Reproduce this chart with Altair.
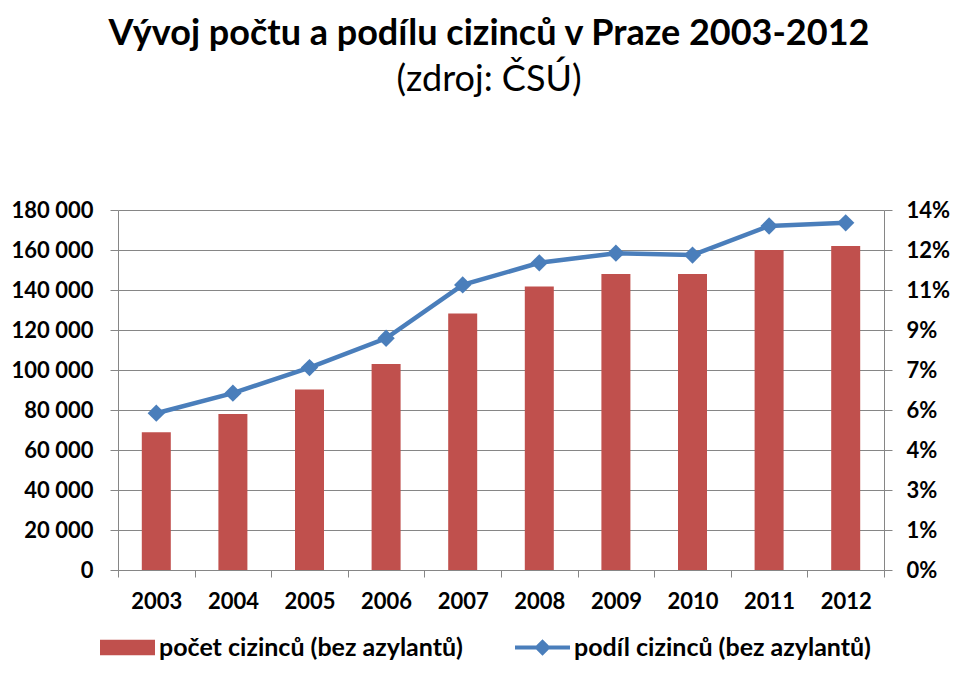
import altair as alt
import pandas as pd

years = ["2003", "2004", "2005", "2006", "2007", "2008", "2009", "2010", "2011", "2012"]
counts = [68900, 78000, 90200, 103000, 128300, 141700, 148000, 148000, 160000, 162000]
shares = [0.0588, 0.0663, 0.0759, 0.0869, 0.1069, 0.1152, 0.1188, 0.1181, 0.1290, 0.1302]

left_tick_values = [0, 20000, 40000, 60000, 80000, 100000, 120000, 140000, 160000, 180000]
right_tick_values = [0.0, 0.015, 0.03, 0.045, 0.06, 0.075, 0.09, 0.105, 0.12, 0.135]
right_tick_labels = ["0%", "1%", "3%", "4%", "6%", "7%", "9%", "11%", "12%", "14%"]

bar_series = "počet cizinců (bez azylantů)"
line_series = "podíl cizinců (bez azylantů)"
title_text = "Vývoj počtu a podílu cizinců v Praze 2003-2012"
subtitle_text = "(zdroj: ČSÚ)"

RED = "#C0504D"
BLUE = "#4A7EBB"
GRAY = "#868686"
FONT = "Lato"

df = pd.DataFrame({
    "year": years,
    "count": counts,
    "share": shares,
    "bar_series": [bar_series] * len(years),
    "line_series": [line_series] * len(years),
})

x_enc = alt.X(
    "year:N",
    sort=years,
    scale=alt.Scale(paddingInner=0, paddingOuter=0),
    axis=alt.Axis(
        title=None, labelAngle=0, tickBand="extent", tickSize=7, labelPadding=14,
        grid=False, domainColor=GRAY, tickColor=GRAY,
    ),
)

labels_js = "[" + ",".join('"%s"' % s for s in right_tick_labels) + "]"

legend_common = dict(
    title=None, orient="none", legendY=410, symbolSize=3025, symbolStrokeWidth=0,
    labelOffset=4, labelLimit=500,
    labelFont=FONT, labelFontSize=25, labelFontWeight="bold", labelColor="black",
)

bars = alt.Chart(df).mark_bar(size=29).encode(
    x=x_enc,
    y=alt.Y(
        "count:Q",
        scale=alt.Scale(domain=[0, 180000], nice=False),
        axis=alt.Axis(
            title=None, values=left_tick_values, grid=True, gridColor=GRAY,
            tickSize=8, labelPadding=17, domainColor=GRAY, tickColor=GRAY,
            labelExpr="replace(format(datum.value, ','), ',', ' ')",
        ),
    ),
    color=alt.Color(
        "bar_series:N",
        scale=alt.Scale(domain=[bar_series], range=[RED]),
        legend=alt.Legend(
            legendX=-18,
            symbolType="M-1,-0.28L1,-0.28L1,0.28L-1,0.28Z",
            **legend_common,
        ),
    ),
)

line = alt.Chart(df).mark_line(
    strokeWidth=4.5,
    point=alt.OverlayMarkDef(shape="diamond", filled=True, size=300, color=BLUE),
).encode(
    x=x_enc,
    y=alt.Y(
        "share:Q",
        scale=alt.Scale(domain=[0, 0.135], nice=False),
        axis=alt.Axis(
            title=None, orient="right", values=right_tick_values, grid=False,
            tickSize=8, labelPadding=14, domainColor=GRAY, tickColor=GRAY,
            labelExpr=labels_js + "[round(datum.value / 0.015)]",
        ),
    ),
    color=alt.Color(
        "line_series:N",
        scale=alt.Scale(domain=[line_series], range=[BLUE]),
        legend=alt.Legend(
            legendX=397,
            symbolType="M-1,-0.07L1,-0.07L1,0.07L-1,0.07Z M-0.3,0L0,-0.3L0.3,0L0,0.3Z",
            symbolFillColor=BLUE, symbolStrokeColor=BLUE,
            **legend_common,
        ),
    ),
)

chart = alt.layer(bars, line).resolve_scale(
    y="independent", color="independent"
).properties(
    width=766,
    height=360,
    autosize=alt.AutoSizeParams(type="none"),
    padding={"left": 110, "top": 202, "right": 68, "bottom": 97},
    title=alt.TitleParams(
        text=title_text,
        subtitle=subtitle_text,
        font=FONT, fontSize=36, fontWeight="bold", color="black",
        subtitleFont=FONT, subtitleFontSize=36, subtitleColor="black",
        subtitleFontWeight="normal", subtitlePadding=10,
        anchor="middle", frame="group", dx=-12, offset=100,
    ),
).configure_view(stroke=None).configure_axis(
    labelFont=FONT, labelFontSize=22, labelFontWeight="bold", labelColor="black",
)

chart.save("out.html", embed_options={"renderer": "svg", "actions": False})
